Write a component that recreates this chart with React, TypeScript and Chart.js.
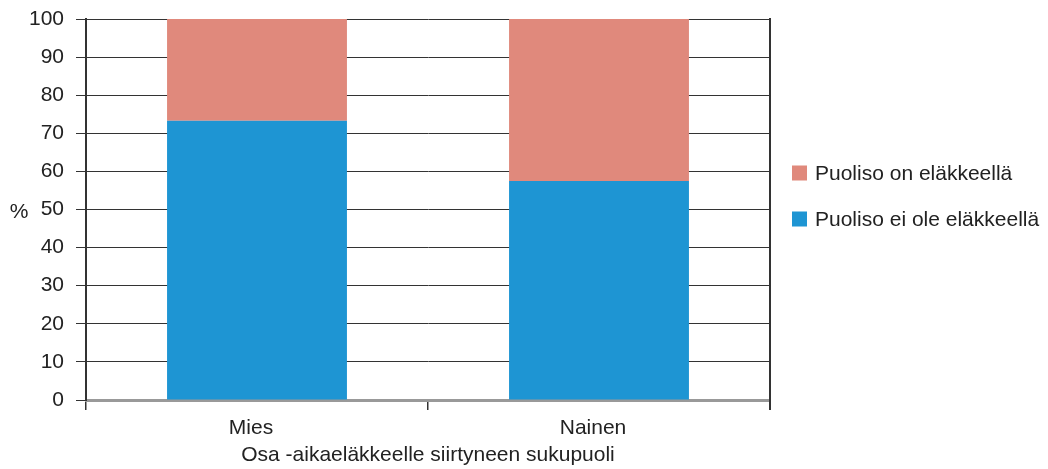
import React, { useEffect, useRef } from "react";
import { Chart, registerables } from "chart.js";

Chart.register(...registerables);

const categories = ["Mies", "Nainen"];
const notRetired = [73.3, 57.5];
const retired = [26.7, 42.5];
const seriesLabels = ["Puoliso ei ole eläkkeellä", "Puoliso on eläkkeellä"];
const yTicks = [0, 10, 20, 30, 40, 50, 60, 70, 80, 90, 100];
const xTitle = "Osa -aikaeläkkeelle siirtyneen sukupuoli";
const yTitle = "%";

const FONT = "'Liberation Sans', Arial, sans-serif";
const FS = 21;
const BLUE = "#1E95D3";
const PINK = "#E0897C";

const extras = {
  id: "extras",
  afterDraw(chart: any) {
    const { ctx, chartArea } = chart;
    ctx.save();
    // right border
    ctx.strokeStyle = "#333333";
    ctx.lineWidth = 2;
    ctx.beginPath();
    ctx.moveTo(chartArea.right, chartArea.top - 1);
    ctx.lineTo(chartArea.right, chartArea.bottom + 10);
    ctx.stroke();
    // y title
    ctx.fillStyle = "#222";
    ctx.font = `${FS}px ${FONT}`;
    ctx.textAlign = "center";
    ctx.textBaseline = "middle";
    ctx.fillText(yTitle, 19, 212);
    // legend (reverse order)
    const items = chart.data.datasets
      .map((d: any) => ({ label: d.label, color: d.backgroundColor }))
      .reverse();
    items.forEach((it: any, i: number) => {
      const cy = 173 + i * 46;
      ctx.fillStyle = it.color;
      ctx.fillRect(792, cy - 7.5, 15, 15);
      ctx.fillStyle = "#222";
      ctx.textAlign = "left";
      ctx.fillText(it.label, 815, cy + 1);
    });
    ctx.restore();
  },
};

export default function App() {
  const ref = useRef<HTMLCanvasElement>(null);
  useEffect(() => {
    if (!ref.current) return;
    const chart = new Chart(ref.current, {
      type: "bar",
      data: {
        labels: categories,
        datasets: [
          {
            label: seriesLabels[0],
            data: notRetired,
            backgroundColor: BLUE,
            categoryPercentage: 1,
            barPercentage: 0.526,
          },
          {
            label: seriesLabels[1],
            data: retired,
            backgroundColor: PINK,
            categoryPercentage: 1,
            barPercentage: 0.526,
          },
        ],
      },
      options: {
        animation: false,
        responsive: false,
        maintainAspectRatio: false,
        layout: { padding: { left: 0, top: 19, right: 278, bottom: 0 } },
        plugins: {
          legend: { display: false },
          tooltip: { enabled: false },
        },
        scales: {
          x: {
            stacked: true,
            grid: {
              display: true,
              offset: true,
              drawOnChartArea: false,
              drawTicks: true,
              tickLength: 10,
              color: "#333333",
              lineWidth: 1.5,
            },
            border: { color: "#999999", width: 3 },
            ticks: {
              color: "#222",
              font: { family: FONT, size: FS },
              padding: 6,
              labelOffset: -6,
            },
            title: {
              display: true,
              text: xTitle,
              color: "#222",
              font: { family: FONT, size: FS },
              padding: { top: 6, bottom: 1 },
            },
            afterFit(scale: any) {
              scale.height = 69;
            },
          },
          y: {
            stacked: true,
            min: 0,
            max: 100,
            afterBuildTicks(scale: any) {
              scale.ticks = yTicks.map((v) => ({ value: v }));
            },
            grid: {
              color: "#333333",
              lineWidth: 1,
              tickLength: 10,
              drawTicks: true,
            },
            border: { color: "#333333", width: 2 },
            ticks: {
              color: "#222",
              font: { family: FONT, size: FS },
              padding: 12,
            },
            afterFit(scale: any) {
              scale.width = 86;
              scale.paddingTop = 0;
              scale.paddingBottom = 0;
            },
          },
        },
      },
      plugins: [extras],
    });
    return () => chart.destroy();
  }, []);
  return (
    <div style={{ position: "absolute", left: 0, top: 0, width: 1048, height: 469, background: "#fff" }}>
      <canvas ref={ref} width={1048} height={469} />
    </div>
  );
}
